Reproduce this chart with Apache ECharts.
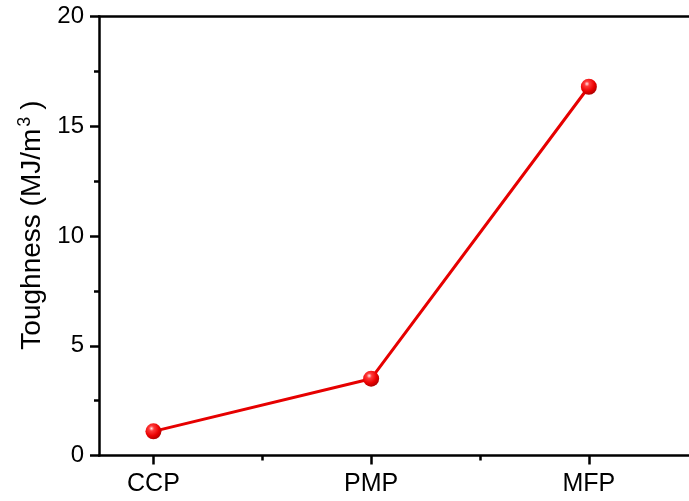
<!DOCTYPE html>
<html>
<head>
<meta charset="utf-8">
<script src="https://cdn.jsdelivr.net/npm/echarts@6/dist/echarts.min.js"></script>
<style>
  html, body { margin: 0; padding: 0; background: #fff; }
  #chart { width: 689px; height: 501px; }
</style>
</head>
<body>
<div id="chart"></div>
<script>
// Samples and their measured toughness (MJ/m^3)
const categories = ['CCP', 'PMP', 'MFP'];
const positions = [1, 2, 3];
const toughness = [1.1, 3.5, 16.8];
const yTicks = [0, 5, 10, 15, 20];

const FONT = 'Liberation Sans, Arial, sans-serif';
const RED = '#e60000';
const AXIS_W = 2.5;

const seriesData = positions.map((x, i) => [x, toughness[i]]);

const chart = echarts.init(document.getElementById('chart'));
chart.setOption({
  backgroundColor: '#ffffff',
  animation: false,
  grid: { left: 99, right: 0, top: 16.5, bottom: 45.5 },
  xAxis: [
    {
      type: 'value', position: 'bottom', min: 0.75, max: 3.46,
      axisLine: { show: true, lineStyle: { color: '#000', width: AXIS_W } },
      axisTick: { show: true, customValues: positions, length: 9, lineStyle: { color: '#000', width: AXIS_W } },
      axisLabel: {
        customValues: positions, margin: 16, color: '#000', fontSize: 25, fontFamily: FONT,
        formatter: v => categories[Math.round(v) - 1]
      },
      splitLine: { show: false }
    },
    {
      // minor ticks halfway between samples
      type: 'value', position: 'bottom', min: 0.75, max: 3.46,
      axisLine: { show: false },
      axisTick: { show: true, customValues: [1.5, 2.5], length: 5, lineStyle: { color: '#000', width: AXIS_W } },
      axisLabel: { show: false },
      splitLine: { show: false }
    },
    {
      // top frame line
      type: 'value', position: 'top', min: 0.75, max: 3.46,
      axisLine: { show: true, lineStyle: { color: '#000', width: AXIS_W } },
      axisTick: { show: false }, axisLabel: { show: false }, splitLine: { show: false }
    }
  ],
  yAxis: {
    type: 'value', min: yTicks[0], max: yTicks[yTicks.length - 1], interval: 5,
    name: '{t|Toughness (MJ/m}{s|3}{t|)}',
    nameLocation: 'middle', nameGap: 49,
    nameTextStyle: {
      padding: [0, 0, 0, 22],
      rich: {
        t: { fontSize: 28, fontFamily: FONT, color: '#000', lineHeight: 32 },
        s: { fontSize: 18, fontFamily: FONT, color: '#000', verticalAlign: 'top', padding: [0, 7, 0, 2] }
      }
    },
    axisLine: { show: true, lineStyle: { color: '#000', width: AXIS_W } },
    axisTick: { show: true, length: 9, lineStyle: { color: '#000', width: AXIS_W } },
    minorTick: { show: true, splitNumber: 2, length: 5, lineStyle: { color: '#000', width: AXIS_W } },
    axisLabel: { margin: 15, color: '#000', fontSize: 24, fontFamily: FONT },
    splitLine: { show: false }
  },
  series: [{
    type: 'line',
    xAxisIndex: 0,
    data: seriesData,
    symbol: 'circle',
    symbolSize: 16,
    lineStyle: { color: RED, width: 3 },
    itemStyle: {
      color: {
        type: 'radial', x: 0.38, y: 0.32, r: 0.72,
        colorStops: [
          { offset: 0, color: '#ffe8e8' },
          { offset: 0.22, color: '#ff3a3a' },
          { offset: 0.65, color: '#ea0000' },
          { offset: 1, color: '#a80000' }
        ]
      },
      borderWidth: 0
    },
    clip: false,
    z: 3
  }]
});
</script>
</body>
</html>
